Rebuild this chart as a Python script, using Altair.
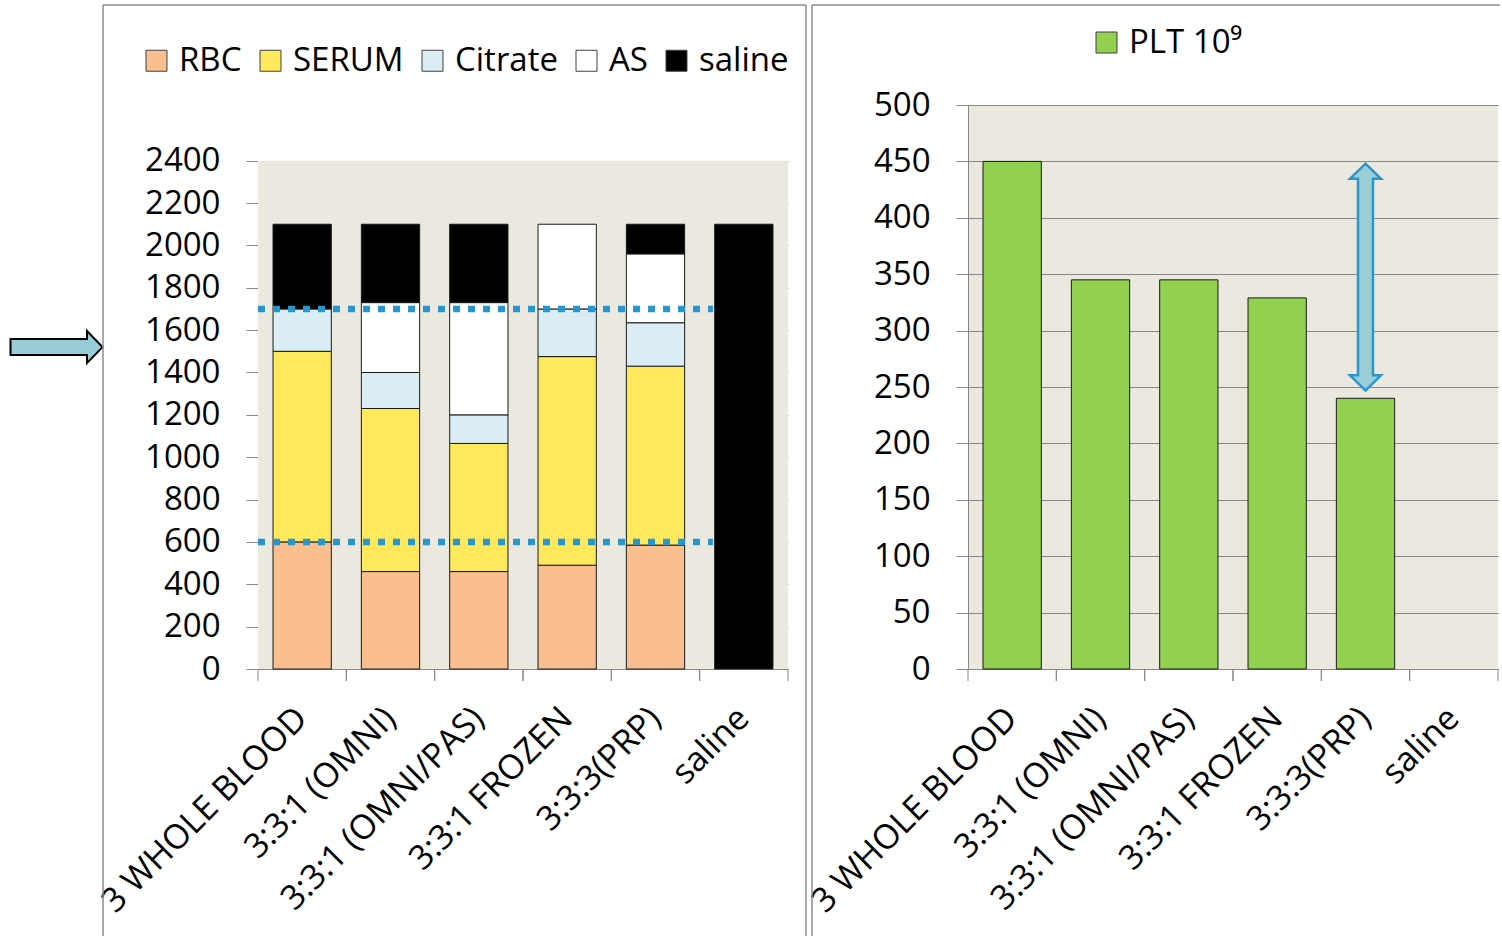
import altair as alt
import pandas as pd

# ---------------- data ----------------
categories = ["3 WHOLE BLOOD", "3:3:1 (OMNI)", "3:3:1 (OMNI/PAS)", "3:3:1 FROZEN", "3:3:3(PRP)", "saline"]
components = ["RBC", "SERUM", "Citrate", "AS", "saline"]
rbc = [600, 460, 460, 490, 585, 0]
serum = [900, 770, 605, 985, 845, 0]
citrate = [200, 170, 135, 225, 205, 0]
as_vol = [0, 330, 530, 400, 325, 0]
saline_vol = [400, 370, 370, 0, 140, 2100]
component_colors = ["#F9BF8F", "#FDE95B", "#DAEDF4", "#FFFFFF", "#000000"]
reference_lines = [1700, 600]
left_arrow_value = 1520

plt_label = "PLT 10\u2079"
plt_values = [450, 345, 345, 329, 240, 0]
plt_arrow_range = [247, 448]

y_left_ticks = list(range(0, 2401, 200))
y_right_ticks = list(range(0, 501, 50))

# ---------------- layout constants ----------------
W = 530
H = 564
LEFT_PLOT_H = 508.3
GRID = "#878787"
BEIGE = "#EBE9DF"
FRAME = "#8C8C8C"
FONT = "Open Sans"

series = [rbc, serum, citrate, as_vol, saline_vol]
rows = []
for ci, comp in enumerate(components):
    for cat, v in zip(categories, series[ci]):
        if v > 0:
            rows.append({"category": cat, "component": comp, "idx": ci, "volume": v})
vol_df = pd.DataFrame(rows)
one = pd.DataFrame({"a": [0]})
cat_df = pd.DataFrame({"category": categories})

x_axis = alt.Axis(labelAngle=-45, labelAlign="right", labelBaseline="middle", labelFontSize=34,
                  labelColor="black", labelPadding=44, ticks=False, grid=False, domainColor=GRID,
                  domainWidth=1, labelOverlap=False, labelLimit=600, title=None)


def y_axis(vals):
    return alt.Axis(values=vals, format="d", labelFontSize=33, labelColor="black", tickSize=12,
                    tickColor=GRID, domainColor=GRID, gridColor=GRID, grid=True, labelPadding=26,
                    title=None, labelOverlap=False)


def tick_layers(scale):
    t0 = alt.Chart(cat_df).mark_rule(color=GRID, strokeWidth=1).encode(
        x=alt.X("category:N", bandPosition=0, scale=scale, title=None),
        y=alt.value(H), y2=alt.value(H + 12))
    t1 = alt.Chart(cat_df).mark_rule(color=GRID, strokeWidth=1).encode(
        x=alt.X("category:N", bandPosition=1, scale=scale, title=None),
        y=alt.value(H), y2=alt.value(H + 12))
    return [t0, t1]


def frame_layers(left_x, right_x):
    out = []
    out.append(alt.Chart(one).mark_rule(color=FRAME, strokeWidth=1.5).encode(
        x=alt.value(left_x), y=alt.value(-100), y2=alt.value(831)))
    out.append(alt.Chart(one).mark_rule(color=FRAME, strokeWidth=1.5).encode(
        x=alt.value(left_x), x2=alt.value(right_x), y=alt.value(-100)))
    return out


# ---------------- left panel ----------------
x_scale_l = alt.Scale(domain=categories, paddingInner=0, paddingOuter=0)
y_scale_l = alt.Scale(domain=[0, 2400], range=[H, H - LEFT_PLOT_H], nice=False, zero=True)

left_legend = alt.Legend(orient="none", legendX=-118, legendY=-61, direction="horizontal", columns=5,
                         title=None, symbolType="square", symbolSize=440, symbolStrokeColor="#404040",
                         symbolStrokeWidth=1, labelFontSize=33, labelColor="black", labelOffset=6,
                         columnPadding=12, labelLimit=300)

bg_l = alt.Chart(one).mark_rect(color=BEIGE).encode(
    x=alt.value(0), x2=alt.value(W),
    y=alt.YDatum(0, scale=y_scale_l, title=None), y2=alt.Y2Datum(2400))

bars_l = alt.Chart(vol_df).mark_bar(stroke="#1a1a1a", strokeWidth=1, width=alt.RelativeBandSize(0.66)).encode(
    x=alt.X("category:N", scale=x_scale_l, axis=x_axis),
    y=alt.Y("volume:Q", stack="zero", scale=y_scale_l, axis=y_axis(y_left_ticks)),
    color=alt.Color("component:N", scale=alt.Scale(domain=components, range=component_colors), legend=left_legend),
    order=alt.Order("idx:Q", sort="ascending"),
)

ref_df = pd.DataFrame({"value": reference_lines, "start": categories[0], "end": categories[-1]})
ref_l = alt.Chart(ref_df).mark_rule(color="#2896CB", strokeWidth=6.5, strokeDash=[7, 8], strokeCap="butt").encode(
    x=alt.X("start:N", bandPosition=0, scale=x_scale_l, title=None),
    x2=alt.X2("end:N", bandPosition=0.15),
    y=alt.Y("value:Q", scale=y_scale_l, title=None),
)

LEFT_ARROW = "M-1,-0.174 L0.663,-0.174 L0.663,-0.348 L1,0 L0.663,0.348 L0.663,0.174 L-1,0.174 Z"
arrow_l = alt.Chart(one).mark_point(shape=LEFT_ARROW, size=92 * 92, filled=True, fill="#96CDD6",
                                    fillOpacity=1, stroke="#000000", strokeWidth=2, opacity=1).encode(
    x=alt.value(-201.5), y=alt.YDatum(left_arrow_value, scale=y_scale_l, title=None))

left_frames = frame_layers(-155, 548)
left_frames.append(alt.Chart(one).mark_rule(color=FRAME, strokeWidth=1.5).encode(
    x=alt.value(548), y=alt.value(-100), y2=alt.value(831)))

left = alt.layer(bg_l, bars_l, ref_l, arrow_l, *tick_layers(x_scale_l), *left_frames).properties(
    width=W, height=H)

# ---------------- right panel ----------------
x_scale_r = alt.Scale(domain=categories, paddingInner=0, paddingOuter=0)
y_scale_r = alt.Scale(domain=[0, 500], nice=False, zero=True)

plt_df = pd.DataFrame({"category": categories, "plt": plt_values, "series": plt_label})
plt_df = plt_df[plt_df["plt"] > 0]

right_legend = alt.Legend(orient="none", legendX=122, legendY=-79, direction="horizontal", title=None,
                          symbolType="square", symbolSize=440, symbolStrokeColor="#404040",
                          symbolStrokeWidth=1, labelFontSize=33, labelColor="black", labelOffset=6,
                          labelLimit=300)

bars_r = alt.Chart(plt_df).mark_bar(stroke="#1a1a1a", strokeWidth=1, width=alt.RelativeBandSize(0.66)).encode(
    x=alt.X("category:N", scale=x_scale_r, axis=x_axis),
    y=alt.Y("plt:Q", scale=y_scale_r, axis=y_axis(y_right_ticks)),
    color=alt.Color("series:N", scale=alt.Scale(domain=[plt_label], range=["#92D050"]), legend=right_legend),
)

arr_center = (plt_arrow_range[0] + plt_arrow_range[1]) / 2
arr_px = (plt_arrow_range[1] - plt_arrow_range[0]) * H / 500.0
DOUBLE_ARROW = ("M0,-1 L0.137,-0.867 L0.066,-0.867 L0.066,0.867 L0.137,0.867 L0,1 "
                "L-0.137,0.867 L-0.066,0.867 L-0.066,-0.867 L-0.137,-0.867 Z")
arrow_r = alt.Chart(one).mark_point(shape=DOUBLE_ARROW, size=arr_px * arr_px, filled=True, fill="#9BCFD8",
                                    fillOpacity=1, stroke="#2A96CB", strokeWidth=2.5, opacity=1).encode(
    x=alt.XDatum(categories[4], scale=x_scale_r, title=None),
    y=alt.YDatum(arr_center, scale=y_scale_r, title=None))

right_frames = frame_layers(-156, 532)

right = alt.layer(bars_r, arrow_r, *tick_layers(x_scale_r), *right_frames).properties(
    width=W, height=H, view=alt.ViewBackground(fill=BEIGE, stroke=None))

chart = alt.hconcat(left, right, spacing=180, bounds="flush").resolve_scale(
    x="independent", y="independent", color="independent"
).properties(
    padding={"left": 6, "top": 4, "right": 0, "bottom": 0}
).configure(font=FONT).configure_view(stroke=None).configure_axis(labelFont=FONT).configure_legend(labelFont=FONT)

chart.save("out.html", embed_options={"renderer": "svg", "actions": False})
